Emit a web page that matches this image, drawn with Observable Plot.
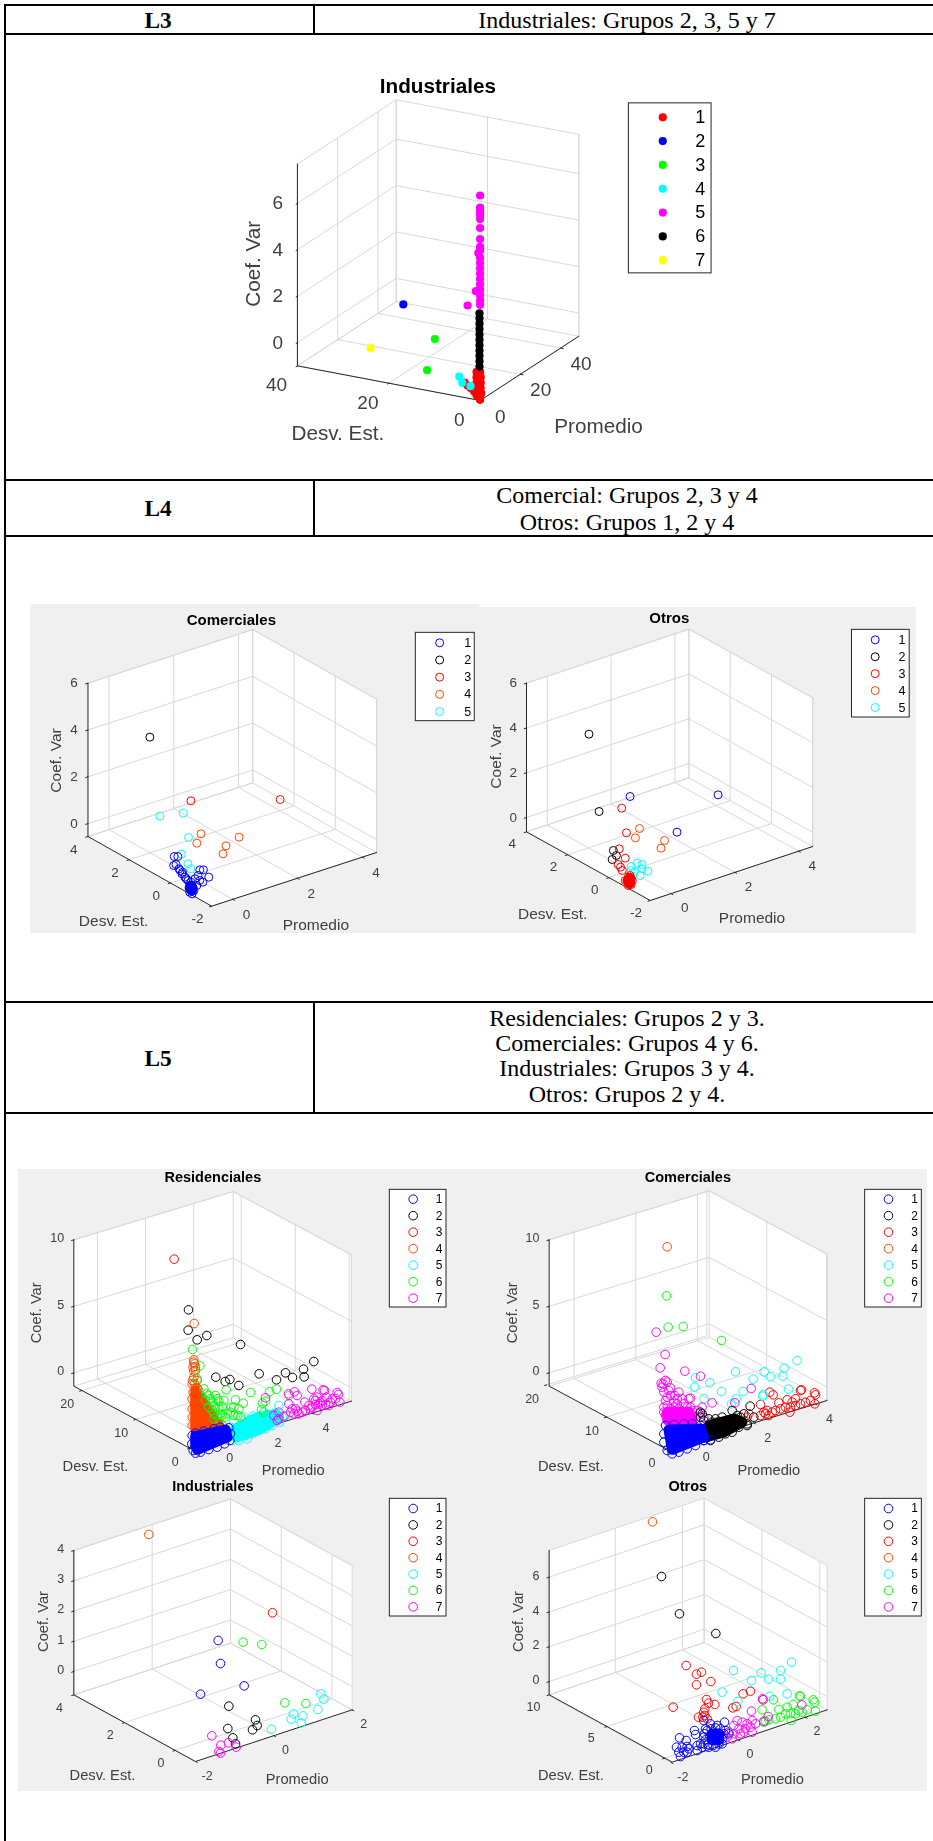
<!DOCTYPE html>
<html lang="es"><head><meta charset="utf-8">
<script src="https://cdn.jsdelivr.net/npm/d3@7"></script>
<script src="https://cdn.jsdelivr.net/npm/@observablehq/plot@0.6"></script>
<style>
html,body{margin:0;padding:0;background:#fff;width:933px;height:1841px;overflow:hidden}
#page{position:relative;width:933px;height:1841px;overflow:hidden}
.ln{position:absolute;background:#000}
.bg{position:absolute;background:#f0f0f0}
.cell{position:absolute;font-family:"Liberation Serif",serif;font-size:24px;line-height:26px;text-align:center;color:#000;white-space:nowrap;transform:translate(-50%,-50%)}
.cell.b{font-weight:bold;font-size:23.3px}
.fig{position:absolute}
.fig svg{display:block;overflow:visible;background:transparent;filter:blur(.4px)}
</style></head><body><div id="page"></div>
<script>
/* ---------- table text ---------- */
const tableLabels=[["L3",158,20],["L4",158,508],["L5",158,1058]];
const tableTexts=[
 ["Industriales: Grupos 2, 3, 5 y 7",627,20],
 ["Comercial: Grupos 2, 3 y 4",627,495],["Otros: Grupos 1, 2 y 4",627,522],
 ["Residenciales: Grupos 2 y 3.",627,1018],["Comerciales: Grupos 4 y 6.",627,1043],
 ["Industriales: Grupos 3 y 4.",627,1068],["Otros: Grupos 2 y 4.",627,1094]];

/* ---------- groups and colours ---------- */
const grupos5=[1,2,3,4,5], grupos7=[1,2,3,4,5,6,7];
const colL3=["#ff0000","#0000ff","#00ff00","#00ffff","#ff00ff","#000000","#ffff00"];
const colL4=["#0000ff","#000000","#ff0000","#ff4500","#00ffff"];
const colL5=["#0000ff","#000000","#ff0000","#ff4500","#00ffff","#00ff00","#ff00ff"];

/* ---------- L3 Industriales: values (screen-plane positions) ---------- */
const a1=[[800,1040],[806,1040],[800,1055],[807,1055],[800,1070],[807,1070],[802,1085],[807,1085],[804,1100],[808,1100],[806,1112],[780,1070],[785,1078],[790,1085],[796,1095],[800,1105],[806,1118]];
const a2=[[677,851]];
const a3=[[730,948],[717,1035]];
const a4=[[771,1053],[776,1070],[790,1080]];
const a5=[[806,546],[806,580],[806,590],[806,600],[806,612],[806,637],[806,668],[806,690],[803,707],[806,700],[806,720],[806,735],[806,750],[806,765],[806,780],[806,795],[806,810],[806,825],[806,840],[806,852],[799,814],[785,854]];
const a6=[[805,876],[805,890],[805,905],[805,920],[805,935],[805,950],[805,965],[805,980],[805,995],[805,1010],[805,1025]];
const a7=[[622,973]];

/* ---------- L4 Comerciales ---------- */
const b1Core=[[320,975],[322,990],[318,982]];
const b1=[[292,888],[298,888],[295,912],[291,915],[302,930],[305,940],[310,950],[335,928],[341,928],[350,950],[340,965],[330,975],[320,965],[322,975],[320,985],[318,995],[322,1000],[325,990],[315,960],[327,955],[332,945],[335,960],[318,975],[324,982],[300,925],[306,935],[312,955]];
const b2=[[251,530]];
const b3=[[320,721],[470,717]];
const b4=[[337,820],[330,848],[401,830],[379,856],[374,880]];
const b5=[[268,767],[307,758],[316,831],[304,881],[315,910],[320,925]];

/* ---------- L4 Otros ---------- */
const c1=[[1058,708],[1206,703],[1137,815]];
const c2=[[989,521],[1006,753],[1030,870],[1035,885],[1028,897]];
const c3Core=[[1058,952],[1058,968],[1054,960]];
const c3=[[1044,743],[1052,817],[1040,865],[1050,893],[1038,912],[1042,920],[1045,930],[1055,950],[1060,955],[1058,965],[1055,975],[1062,960],[1050,960],[1058,945],[1056,968],[1060,972]];
const c4=[[1074,804],[1067,832],[1116,840],[1110,863]];
const c5=[[1070,908],[1078,912],[1060,918],[1088,932],[1075,945],[1060,930],[1065,935],[1078,925]];

/* ---------- L5 Residenciales ---------- */
const d1Core=[[585,858],[675,838],[680,860],[590,897],[585,885]];
const d1=[[575,855],[574,880],[578,900],[585,908],[600,905],[625,897],[650,890],[672,880],[688,870],[690,850],[685,832],[660,830],[640,835],[610,842],[585,848]];
const d2=[[564,478],[563,539],[590,568],[619,555],[720,582],[646,680],[674,693],[688,687],[715,705],[776,670],[828,688],[855,667],[876,681],[909,656],[911,679],[940,633]];
const d3=[[521,326]];
const d4Core=[[585,835],[655,830],[610,760],[585,720]];
const d4=[[581,519],[580,628],[582,640],[578,650],[585,660],[580,680],[590,690],[575,700],[585,712],[595,720],[578,725],[590,735],[575,745],[598,745],[582,760],[610,770],[600,790],[625,780],[640,800],[655,820],[665,825],[575,775],[575,800],[575,825],[580,635],[584,648],[580,662],[576,690],[582,700],[590,712],[605,740]];
const d5Core=[[705,835],[708,860],[780,835],[835,800],[825,790],[760,805]];
const d5=[[695,870],[715,870],[735,855],[755,850],[775,840],[795,835],[815,825],[838,815],[855,795],[835,765],[845,800],[825,790],[800,792],[780,795],[757,797],[770,800],[810,795],[730,800],[690,830],[700,815],[740,865]];
const d6=[[576,597],[598,646],[590,685],[610,715],[677,718],[750,726],[807,724],[828,716],[866,735],[786,758],[795,752],[705,748],[728,758],[783,778],[790,785],[625,735],[645,735],[615,750],[635,755],[655,752],[670,750],[625,770],[645,772],[665,768],[640,790],[660,790],[680,790],[655,805],[675,800],[700,770],[715,775],[712,795],[700,795],[720,800],[692,770],[690,785],[630,745],[650,745],[618,730],[640,765],[655,775],[635,780],[650,795],[665,795],[640,805]];
const d7=[[795,742],[864,730],[882,724],[890,735],[934,716],[968,718],[972,720],[1010,726],[1014,732],[1018,755],[913,755],[940,745],[950,740],[965,750],[978,740],[995,745],[1005,745],[945,762],[955,760],[965,765],[975,762],[990,755],[925,765],[935,770],[915,780],[905,785],[885,775],[875,775],[870,785],[880,790],[890,782],[865,760],[950,780],[930,775],[820,795],[835,785],[850,798],[830,810],[835,805],[960,755],[985,765],[945,750],[895,790]];

/* ---------- L5 Comerciales ---------- */
const e1Core=[[595,838],[690,835],[700,860],[605,897]];
const e1=[[585,825],[610,822],[640,820],[665,820],[690,825],[580,850],[580,875],[590,900],[605,910],[625,905],[650,895],[675,885],[700,870],[720,868]];
const e2Core=[[705,860],[715,825],[790,805],[815,815],[760,845]];
const e2=[[785,780],[839,767],[755,800],[770,810],[800,795],[810,800],[830,820],[850,800],[695,790],[690,785],[700,870],[720,870],[745,860],[765,850],[785,845],[805,830],[830,825],[740,815],[725,815],[760,815],[780,815],[800,810],[700,810],[690,800],[715,805],[735,805],[820,790]];
const e3=[[898,725],[908,733],[993,718],[990,720],[1032,727],[1035,733],[925,757],[950,748],[965,755],[975,745],[945,770],[960,770],[975,765],[990,760],[1005,755],[1020,750],[1033,760],[880,785],[870,795],[885,790],[895,795],[890,780],[870,762],[905,785],[915,780],[930,775],[958,785],[835,790],[830,800]];
const e4=[[590,289]];
const e5=[[675,682],[672,710],[718,697],[795,664],[753,723],[818,723],[848,686],[881,664],[900,679],[941,653],[937,677],[980,630],[954,716],[878,733],[877,737],[700,745],[797,745],[783,760]];
const e6=[[588,436],[593,530],[638,528],[753,570]];
const e7Core=[[590,785],[655,785],[665,808],[592,808]];
const e7=[[557,545],[584,612],[569,652],[643,662],[690,677],[725,757],[842,714],[793,757],[585,690],[578,700],[590,695],[572,698],[600,712],[625,725],[655,745],[660,743],[580,725],[600,735],[585,750],[610,755],[635,745],[640,760],[580,770],[600,775],[625,775],[650,770],[665,780],[585,795],[605,795],[630,795],[650,800],[665,795],[680,780],[695,770],[685,790],[700,800],[610,810],[590,810],[635,810],[660,812],[590,765],[610,770],[620,760],[635,785],[595,785],[615,785],[645,785],[660,770],[590,740],[612,735],[575,710],[595,720],[620,745],[580,785],[655,805],[620,805],[600,805],[645,812]];

/* ---------- L5 Industriales ---------- */
const f1=[[653,480],[660,549],[731,616],[600,641]];
const f2=[[685,677],[765,718],[770,735],[756,748],[682,744],[697,772],[705,790]];
const f3=[[816,397]];
const f4=[[445,162]];
const f5=[[961,640],[970,656],[952,687],[879,700],[907,706],[872,716],[902,727],[813,746]];
const f6=[[728,485],[784,492],[853,667],[916,669]];
const f7=[[634,766],[661,794],[684,787],[707,800],[655,813],[660,818]];

/* ---------- L5 Otros ---------- */
const g1Core=[[725,760],[745,760],[745,778],[725,778]];
const g1=[[672,750],[675,762],[627,772],[647,780],[618,800],[635,800],[650,798],[655,805],[625,815],[640,815],[630,828],[650,815],[680,795],[690,790],[695,800],[680,810],[700,770],[705,745],[720,730],[740,735],[762,725],[765,750],[775,760],[755,790],[735,800],[715,800],[700,720],[700,790],[710,750],[722,745],[735,742],[750,745],[760,760],[755,775],[745,790],[728,795],[712,792],[705,778],[702,760],[718,768],[735,765]];
const g2=[[573,288],[627,400],[736,459]];
const g3=[[647,555],[678,581],[693,575],[678,613],[721,603],[608,680],[818,640],[840,632],[708,657],[714,668],[733,672],[703,685],[700,695],[703,705],[684,710],[787,682],[797,678],[878,658],[697,710],[710,715]];
const g4=[[546,124]];
const g5=[[789,570],[843,600],[872,577],[894,596],[930,570],[930,596],[963,545],[755,635],[950,640],[898,647],[802,663]];
const g6=[[909,658],[875,688],[987,646],[990,648],[1028,658],[1032,665],[1035,692],[925,687],[950,680],[968,672],[985,690],[995,695],[1010,688],[960,700],[975,700],[945,700],[930,710],[915,715],[895,718],[885,722],[962,720],[880,725]];
const g7=[[876,655],[994,673],[843,692],[893,708],[880,722],[800,720],[815,725],[830,730],[845,720],[790,735],[805,745],[825,745],[845,755],[840,740],[855,730],[775,755],[790,760],[770,770],[785,775],[810,760],[820,755]];

const panels=[
 {win:[0,0,933,560],xd:1568,yd:1568,grey:null,filled:true,r:4.1,grupos:grupos7,col:colL3,
  F:[806,1120],L:[499,1023],R:[972,940],H:565,pr:[0,49],dr:[0,40],cr:[-1,7.69],
  zt:[0,2,4,6],dt:[0,20,40],pt:[0,20,40],fs:19,lfs:20.7,tfs:20.7,legfs:18,
  zo:[-24,0],dto:[-35,54],pto:[34,45],
  title:["Industriales",735,240],lc:[425,737],ld:[567,1213],lp:[1005,1193],
  leg:{x:[1056,1195],y:[288,764],sx:1113,tx:1176,first:327,step:66.7},
  series:[[1,a1],[2,a2],[3,a3],[4,a4],[5,a5],[6,a6],[7,a7]]},
 {win:[0,560,933,440],xd:1568,yd:1320,grey:true,r:4,grupos:grupos5,col:colL4,
  F:[355,1037],L:[147,828],R:[632,876],H:460,pr:[-.65,4.44],dr:[-2,4],cr:[-.55,6],
  zt:[0,2,4,6],dt:[-2,0,2,4],pt:[0,2,4],fs:13.5,lfs:15.5,tfs:15,legfs:12.5,
  zo:[-17,0],dto:[-24,39],pto:[23,46],
  title:["Comerciales",388,178],lc:[93,600],ld:[190,1082],lp:[530,1094],
  leg:{x:[698,797],y:[217,482],sx:738,tx:785,first:247,step:51.5},
  series:[[5,b5],[4,b4],[3,b3],[2,b2],[1,b1]],cores:[[1,b1Core]]},
 {win:[0,560,933,440],xd:1568,yd:1320,grey:true,r:4,grupos:grupos5,col:colL4,
  F:[1092,1020],L:[884,814],R:[1365,858],H:446,pr:[-.65,4.44],dr:[-2,4],cr:[-.64,6],
  zt:[0,2,4,6],dt:[-2,0,2,4],pt:[0,2,4],fs:13.5,lfs:15.5,tfs:15,legfs:12.5,
  zo:[-16,0],dto:[-24,37],pto:[23,43],
  title:["Otros",1124,172],lc:[833,588],ld:[928,1060],lp:[1263,1074],
  leg:{x:[1431,1528],y:[208,471],sx:1470,tx:1515,first:238,step:50.75},
  series:[[1,c1],[2,c2],[4,c4],[5,c5],[3,c3]],cores:[[3,c3Core]]},
 {win:[0,1150,470,340],xd:1410,yd:1020,grey:true,r:4.3,grupos:grupos7,col:colL5,
  F:[575,897],L:[220,707],R:[1053,752],H:439,pr:[-.98,5.64],dr:[-.43,21.5],cr:[-1,10],
  zt:[0,5,10],dt:[0,10,20],pt:[0,2,4],fs:12.5,lfs:14.7,tfs:14.5,legfs:12,
  zo:[-29,-5],dto:[-44,40],pto:[42,46],
  title:["Residenciales",637,80],lc:[108,487],ld:[285,948],lp:[878,960],
  leg:{x:[1168,1338],y:[118,471],sx:1238,tx:1316,first:146,step:49.5},
  series:[[2,d2],[3,d3],[4,d4],[5,d5],[6,d6],[7,d7],[1,d1]],
  cores:[[4,d4Core],[5,d5Core],[1,d1Core]]},
 {win:[470,1150,463,340],xd:1389,yd:1020,grey:true,r:4.3,grupos:grupos7,col:colL5,
  F:[590,897],L:[236,707],R:[1070,750],H:439,pr:[-.81,4.38],dr:[-.1,19.6],cr:[-1,10],
  zt:[0,5,10],dt:[0,10,20],pt:[0,2,4],fs:12.5,lfs:14.7,tfs:14.5,legfs:12,
  zo:[-29,-5],dto:[-44,41],pto:[42,46],
  title:["Comerciales",652,80],lc:[124,487],ld:[301,948],lp:[895,960],
  leg:{x:[1184,1354],y:[118,471],sx:1254,tx:1332,first:146,step:49.5},
  series:[[3,e3],[4,e4],[5,e5],[6,e6],[7,e7],[2,e2],[1,e1]],
  cores:[[7,e7Core],[2,e2Core],[1,e1Core]]},
 {win:[0,1480,470,361],xd:1410,yd:1083,grey:true,r:4.3,grupos:grupos7,col:colL5,
  F:[585,843],L:[220,643],R:[1055,688],H:433,pr:[-2,2],dr:[-.8,4],cr:[-.77,4],
  zt:[0,1,2,3,4],dt:[0,2,4],pt:[-2,0,2],fs:12.5,lfs:14.7,tfs:14.5,legfs:12,
  zo:[-29,-5],dto:[-43,38],pto:[35,42],
  title:["Industriales",637,18],lc:[128,423],ld:[306,885],lp:[890,897],
  leg:{x:[1168,1338],y:[55,408],sx:1238,tx:1316,first:84,step:49.2},
  series:[[1,f1],[2,f2],[3,f3],[4,f4],[5,f5],[6,f6],[7,f7]]},
 {win:[470,1480,463,361],xd:1389,yd:1083,grey:true,r:4.3,grupos:grupos7,col:colL5,
  F:[605,845],L:[236,643],R:[1070,688],H:433,pr:[-1.97,2.65],dr:[-.64,10],cr:[-.76,7.53],
  zt:[0,2,4,6],dt:[0,5,10],pt:[-2,0,2],fs:12.5,lfs:14.7,tfs:14.5,legfs:12,
  zo:[-29,-4],dto:[-47,36],pto:[35,42],
  title:["Otros",652,18],lc:[144,423],ld:[301,885],lp:[906,897],
  leg:{x:[1184,1354],y:[55,408],sx:1254,tx:1332,first:84,step:49.2},
  series:[[3,g3],[2,g2],[4,g4],[5,g5],[6,g6],[7,g7],[1,g1]],
  cores:[[1,g1Core]]}
];

const page=document.getElementById("page");
function add(cls,st,txt){const e=document.createElement("div");e.className=cls;Object.assign(e.style,st);if(txt)e.textContent=txt;page.append(e);}
const px=v=>v+"px";
/* grey figure backgrounds */
[[30,604,449,329],[479,607,436.5,326],[18,1169,909,622]].forEach(([x,y,w,h])=>add("bg",{left:px(x),top:px(y),width:px(w),height:px(h)}));
/* table rules */
[5,34,480,536,1002,1113].forEach(y=>add("ln",{left:"4px",top:px(y-1),width:"929px",height:"2px"}));
add("ln",{left:"4px",top:"4px",width:"2px",height:"1837px"});
[[4,34],[480,536],[1002,1113]].forEach(([a,b])=>add("ln",{left:"313px",top:px(a),width:"2px",height:px(b-a)}));
tableLabels.forEach(([t,x,y])=>add("cell b",{left:px(x),top:px(y)},t));
tableTexts.forEach(([t,x,y])=>add("cell",{left:px(x),top:px(y)},t));

const sans='"Liberation Sans",Arial,sans-serif', axisC="#262626", gridC="#d8d8d8", textC="#404040";

function draw(c){
 const [wx,wy,ww,wh]=c.win;
 const fr=(v,[a,b])=>(v-a)/(b-a);
 const proj=(p,d,z)=>{
  const fp=fr(p,c.pr),fd=fr(d,c.dr),fz=fr(z,c.cr);
  return [c.F[0]+fp*(c.R[0]-c.F[0])+fd*(c.L[0]-c.F[0]),
          c.F[1]+fp*(c.R[1]-c.F[1])+fd*(c.L[1]-c.F[1])-fz*c.H];
 };
 const [p0,p1]=c.pr,[d0,d1]=c.dr,[z0,z1]=c.cr;
 const poly=pts=>pts.map(([x,y])=>({x,y}));
 const ln=(pts,st,sw=1)=>Plot.line(poly(pts),{x:"x",y:"y",stroke:st,strokeWidth:sw});
 const marks=[];
 if(c.grey) marks.push(Plot.line(poly([proj(p0,d1,z0),proj(p0,d0,z0),proj(p1,d0,z0),proj(p1,d0,z1),proj(p1,d1,z1),proj(p0,d1,z1),proj(p0,d1,z0)]),{x:"x",y:"y",fill:"#fff",stroke:"none"}));
 /* grid on walls and floor */
 c.zt.forEach(z=>marks.push(ln([proj(p0,d1,z),proj(p1,d1,z),proj(p1,d0,z)],gridC)));
 c.pt.forEach(p=>marks.push(ln([proj(p,d0,z0),proj(p,d1,z0),proj(p,d1,z1)],gridC)));
 c.dt.forEach(d=>marks.push(ln([proj(p0,d,z0),proj(p1,d,z0),proj(p1,d,z1)],gridC)));
 marks.push(ln([proj(p0,d1,z1),proj(p1,d1,z1),proj(p1,d0,z1),proj(p1,d0,z0)],gridC));
 marks.push(ln([proj(p1,d1,z0),proj(p1,d1,z1)],gridC));
 marks.push(ln([proj(p0,d1,z0),proj(p1,d1,z0),proj(p1,d0,z0)],gridC));
 /* axes */
 marks.push(ln([proj(p0,d1,z1),proj(p0,d1,z0),proj(p0,d0,z0),proj(p1,d0,z0)],axisC));
 const tl=.014;
 c.zt.forEach(z=>marks.push(ln([proj(p0,d1,z),proj(p0-tl*(p1-p0),d1,z)],axisC)));
 c.dt.forEach(d=>marks.push(ln([proj(p0,d,z0),proj(p0-tl*(p1-p0),d,z0)],axisC)));
 c.pt.forEach(p=>marks.push(ln([proj(p,d0,z0),proj(p,d0-tl*(d1-d0),z0)],axisC)));
 /* tick labels */
 const tx=(rows,o,anchor)=>Plot.text(rows,{x:d=>d.x+o[0],y:d=>d.y+o[1],text:"t",fill:textC,fontSize:c.fs,fontFamily:sans,textAnchor:anchor,lineAnchor:"middle"});
 const row=(t,q)=>({t:String(t),x:q[0],y:q[1]});
 marks.push(tx(c.zt.map(z=>row(z,proj(p0,d1,z))),c.zo,"end"));
 marks.push(tx(c.dt.map(d=>row(d,proj(p0,d,z0))),c.dto,"middle"));
 marks.push(tx(c.pt.map(p=>row(p,proj(p,d0,z0))),c.pto,"middle"));
 /* axis labels and title */
 const label=(t,pos,o={})=>Plot.text([t],{x:()=>pos[0],y:()=>pos[1],text:d=>d,fill:textC,fontSize:c.lfs,fontFamily:sans,lineAnchor:"middle",...o});
 marks.push(label("Coef. Var",c.lc,{rotate:-90}));
 marks.push(label("Desv. Est.",c.ld));
 marks.push(label("Promedio",c.lp));
 marks.push(label(c.title[0],[c.title[1],c.title[2]],{fill:"#000",fontWeight:"bold",fontSize:c.tfs}));
 /* points */
 const rows=list=>list.flatMap(([g,a])=>a.map(([x,y])=>({x,y,g})));
 if(c.filled) marks.push(Plot.dot(rows(c.series),{x:"x",y:"y",r:c.r,fill:"g",stroke:"none"}));
 else{
  c.series.forEach(s=>{
   const core=(c.cores||[]).filter(k=>k[0]===s[0]);
   marks.push(Plot.dot(rows([s]),{x:"x",y:"y",r:c.r,stroke:"g",strokeWidth:1}));
   /* where circles overlap into a solid clump */
   if(core.length){
    marks.push(Plot.hull(rows(core),{x:"x",y:"y",fill:"g",stroke:"g",strokeWidth:2*(c.r+1),strokeLinejoin:"round"}));
   }
  });
 }
 /* legend */
 const L=c.leg;
 marks.push(Plot.rect([0],{x1:()=>L.x[0],x2:()=>L.x[1],y1:()=>L.y[0],y2:()=>L.y[1],fill:"#fff",stroke:axisC,strokeWidth:1}));
 const lr=c.grupos.map((g,i)=>({g,y:L.first+i*L.step}));
 marks.push(Plot.dot(lr,c.filled?{x:()=>L.sx,y:"y",r:c.r,fill:"g",stroke:"none"}:{x:()=>L.sx,y:"y",r:c.r,stroke:"g",strokeWidth:1}));
 marks.push(Plot.text(lr,{x:()=>L.tx,y:"y",text:d=>String(d.g),fill:"#000",fontSize:c.legfs,fontFamily:sans,lineAnchor:"middle"}));
 const svg=Plot.plot({width:ww,height:wh,margin:0,
  x:{type:"linear",domain:[0,c.xd],axis:null},
  y:{type:"linear",domain:[c.yd,0],axis:null},
  color:{type:"ordinal",domain:c.grupos,range:c.col},
  style:{background:"transparent",overflow:"visible"},
  marks});
 const holder=document.createElement("div");holder.className="fig";
 holder.style.left=px(wx);holder.style.top=px(wy);holder.append(svg);page.append(holder);
}
panels.forEach(draw);
</script></body></html>
